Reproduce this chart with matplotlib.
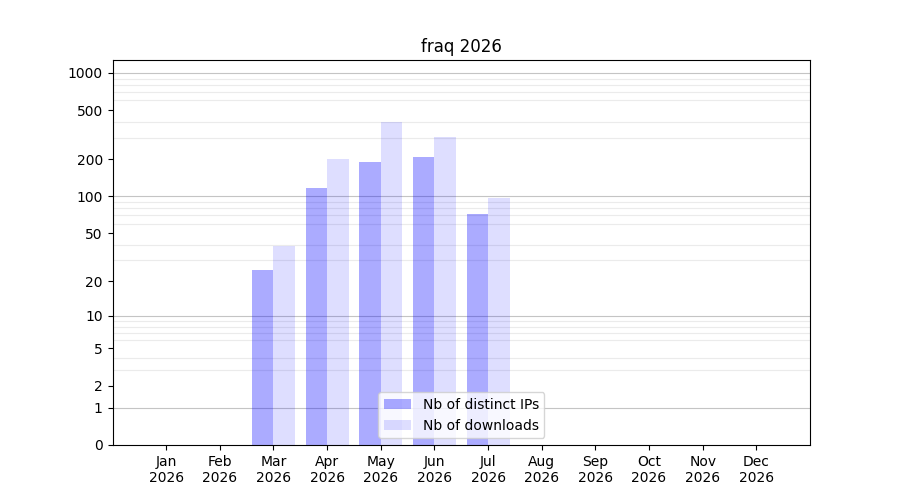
import matplotlib
matplotlib.use("Agg")
import matplotlib.pyplot as plt
import numpy as np

title = "fraq 2026"
months = ["Jan", "Feb", "Mar", "Apr", "May", "Jun",
          "Jul", "Aug", "Sep", "Oct", "Nov", "Dec"]
year = "2026"
distinct_ips = [0, 0, 25, 117, 190, 209, 72, 0, 0, 0, 0, 0]
downloads = [0, 0, 39, 201, 401, 304, 97, 0, 0, 0, 0, 0]
y_labels = [0, 1, 2, 5, 10, 20, 50, 100, 200, 500, 1000]
decades = [1, 10, 100, 1000]


def fwd(v):
    return np.log10(1 + np.maximum(v, 0))


def inv(v):
    return 10 ** v - 1


fig, ax = plt.subplots(figsize=(9, 5), dpi=100)
ax.set_yscale("function", functions=(fwd, inv))
ax.set_axisbelow(True)

x = np.arange(len(months))
width = 0.4
ax.bar(x, distinct_ips, width=-width, align="edge", color="blue", alpha=0.33,
       label="Nb of distinct IPs", zorder=2)
ax.bar(x, downloads, width=width, align="edge", color="blue", alpha=0.13,
       label="Nb of downloads", zorder=2)

minor = [m * d for d in [1, 10, 100, 1000] for m in range(2, 10)]
ax.set_yticks(y_labels)
ax.set_yticklabels([str(v) for v in y_labels])
ax.set_yticks(minor, minor=True)
ax.tick_params(axis="y", which="minor", length=0)
ax.grid(axis="y", which="minor", color="#ebebeb", linewidth=0.8)
for d in decades:
    ax.axhline(d, color="#c4c4c4", linewidth=0.8, zorder=0.6)

ax.set_ylim(0, 1270)
ax.set_xlim(-1, 12)
ax.set_xticks(x)
ax.set_xticklabels([f"{m}\n{year}" for m in months])
ax.set_title(title)
ax.legend(loc="lower center")

fig.savefig("out.png")
